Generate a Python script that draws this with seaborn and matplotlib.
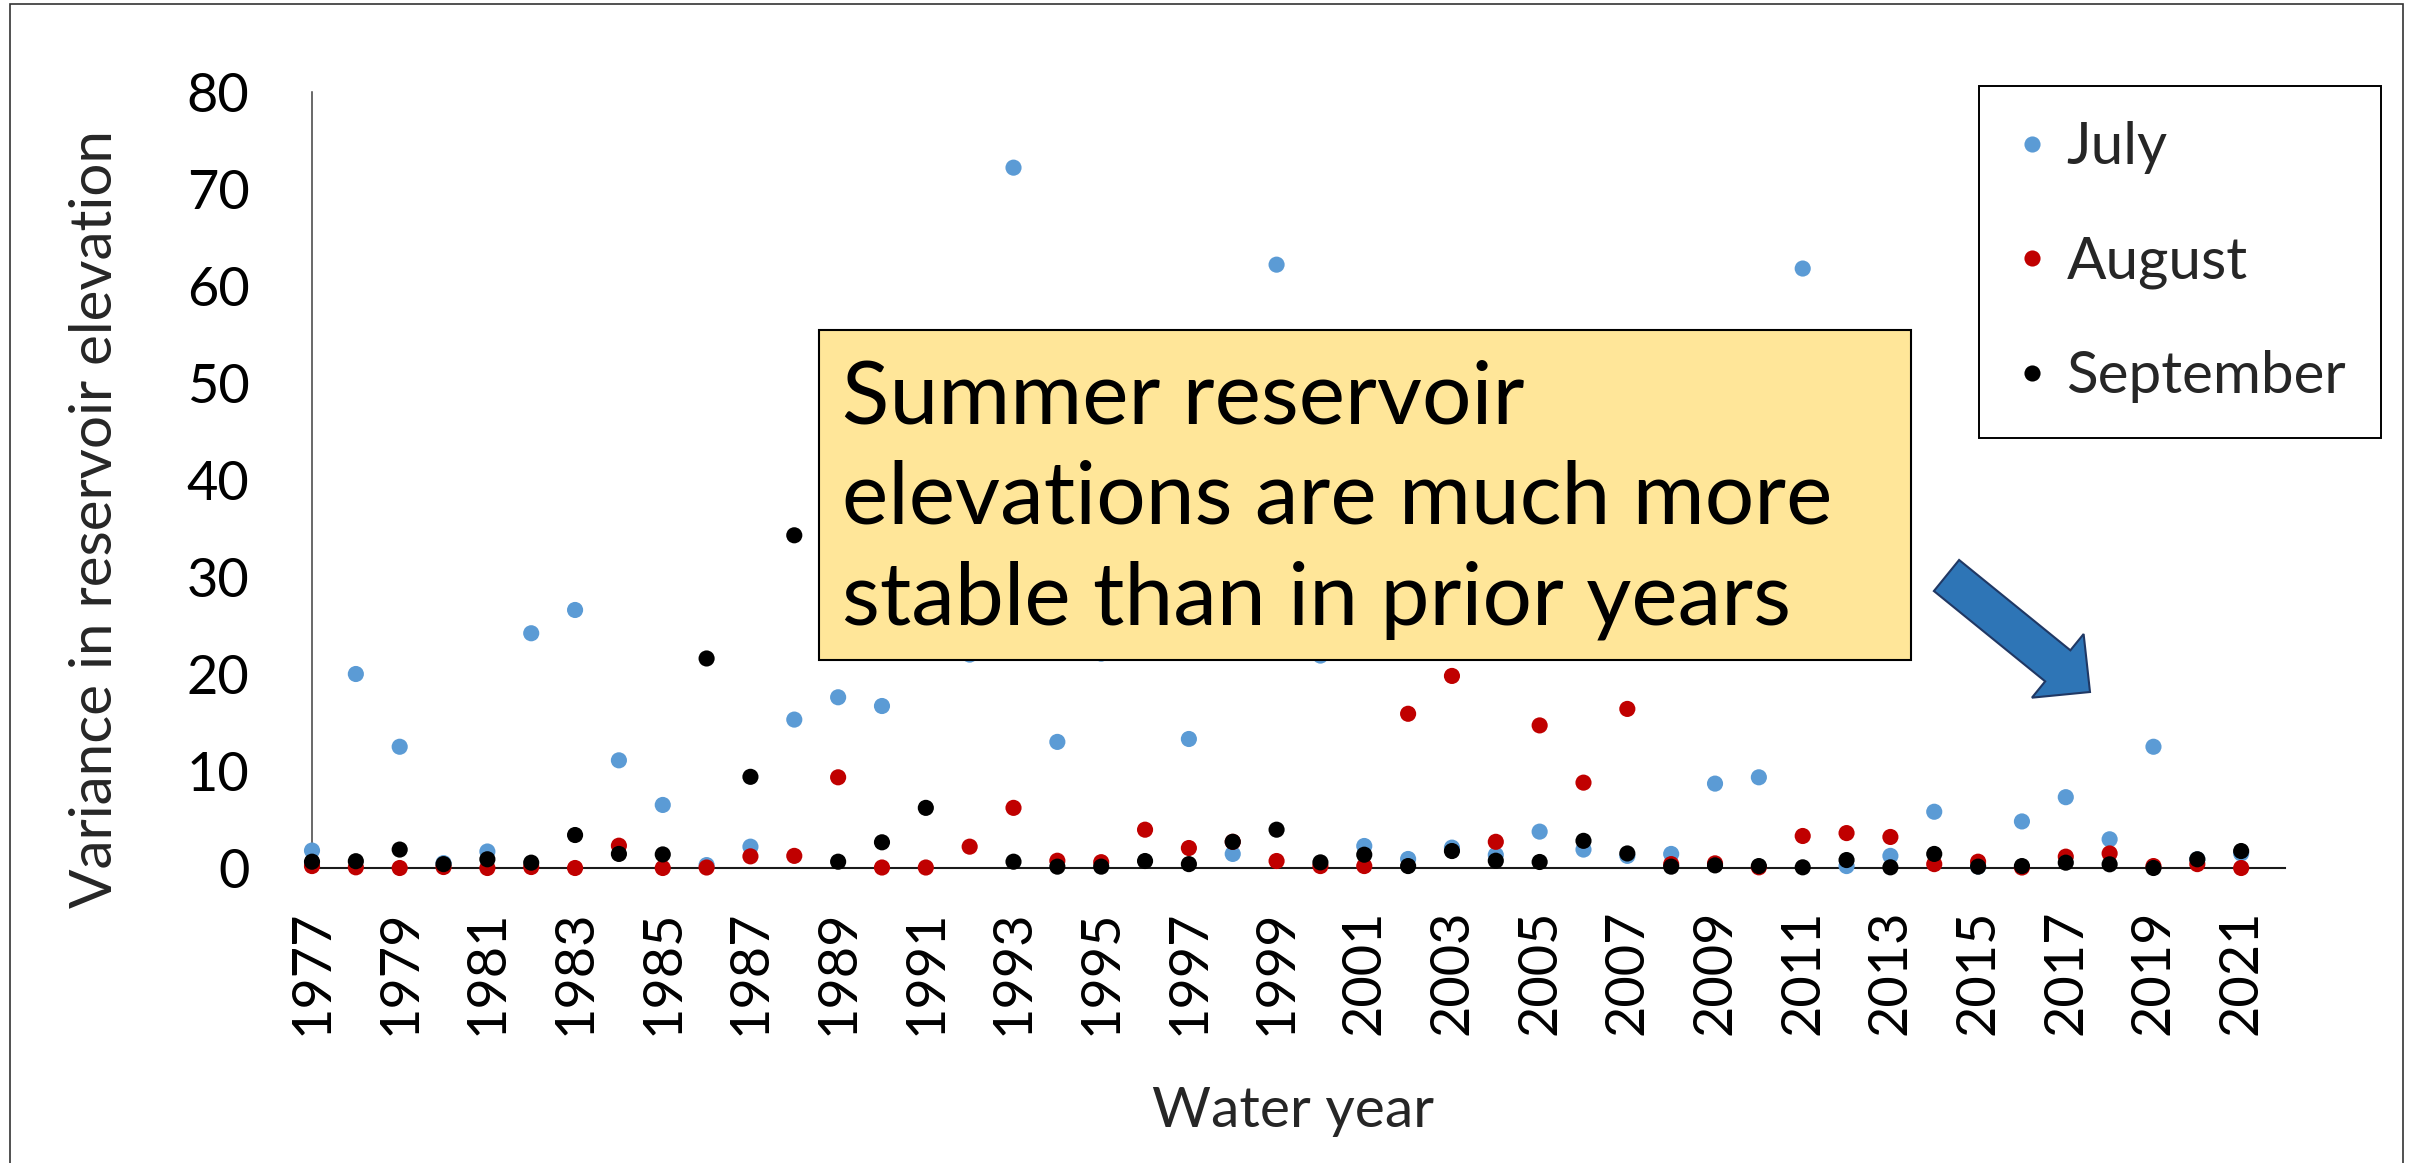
import numpy as np
import pandas as pd
import matplotlib
matplotlib.use("Agg")
import matplotlib.pyplot as plt
import matplotlib.patches as mpatches
import seaborn as sns

# ---- data -------------------------------------------------------------
years = list(range(1977, 2022))

july = [1.8, 20.0, 12.5, 0.5, 1.7, 24.2, 26.6, 11.1, 6.5, 0.3,
        2.2, 15.3, 17.6, 16.7, 38.0, 22.0, 72.2, 13.0, 22.1, 30.0,
        13.3, 1.45, 62.2, 21.9, 2.27, 0.93, 2.1, 1.35, 3.75, 1.9,
        1.25, 1.45, 8.7, 9.35, 61.8, 0.2, 1.25, 5.8, 0.15, 4.8,
        7.3, 2.96, 12.5, 0.9, 1.5]

august = [0.2, 0.07, 0.0, 0.1, 0.0, 0.1, 0.0, 2.3, 0.0, 0.05,
          1.2, 1.25, 9.35, 0.05, 0.05, 2.2, 6.2, 0.75, 0.6, 3.95,
          2.06, 2.7, 0.72, 0.2, 0.2, 15.9, 19.8, 2.7, 14.7, 8.8,
          16.4, 0.4, 0.48, 0.07, 3.3, 3.6, 3.2, 0.4, 0.65, 0.05,
          1.17, 1.5, 0.2, 0.4, 0.0]

september = [0.65, 0.7, 1.9, 0.4, 0.9, 0.55, 3.4, 1.45, 1.4, 21.6,
             9.4, 34.3, 0.65, 2.65, 6.2, 40.0, 0.65, 0.14, 0.14, 0.72,
             0.4, 2.7, 3.95, 0.58, 1.37, 0.2, 1.75, 0.75, 0.62, 2.8,
             1.5, 0.14, 0.27, 0.2, 0.07, 0.82, 0.07, 1.45, 0.14, 0.2,
             0.55, 0.38, 0.0, 0.9, 1.75]

months = ["July", "August", "September"]
month_colors = ["#5B9BD5", "#C00000", "#000000"]
tick_years = years[::2]
y_ticks = [0, 10, 20, 30, 40, 50, 60, 70, 80]

callout_lines = ["Summer reservoir",
                 "elevations are much more",
                 "stable than in prior years"]

df = pd.DataFrame({
    "Water year": years * 3,
    "Variance": july + august + september,
    "Month": [m for m in months for _ in years],
})

# ---- style ------------------------------------------------------------
sns.set_theme(style="white")
plt.rcParams["font.family"] = ["Lato", "DejaVu Sans"]

W, H = 2410, 1163
fig = plt.figure(figsize=(W / 100, H / 100), dpi=100)
fig.patch.set_facecolor("white")

ax_l, ax_r, ax_b, ax_t = 312, 2285, 868, 92
ax = fig.add_axes([ax_l / W, 1 - ax_b / H, (ax_r - ax_l) / W, (ax_b - ax_t) / H])

sns.scatterplot(data=df, x="Water year", y="Variance", hue="Month",
                hue_order=months, palette=month_colors, s=135,
                linewidth=0, clip_on=False, ax=ax, zorder=3)

ax.set_xlim(1977, 2022)
ax.set_ylim(0, 80)
ax.set_xticks(tick_years)
ax.set_xticklabels([str(y) for y in tick_years], rotation=90)
ax.set_yticks(y_ticks)
ax.tick_params(axis="both", length=0, labelsize=39, colors="black")
ax.tick_params(axis="x", pad=30)
ax.tick_params(axis="y", pad=45)

for side in ("top", "right"):
    ax.spines[side].set_visible(False)
ax.spines["left"].set_color("#404040")
ax.spines["left"].set_linewidth(1.1)
ax.spines["bottom"].set_color("#1a1a1a")
ax.spines["bottom"].set_linewidth(1.5)
ax.grid(False)

ax.set_xlabel("Water year", fontsize=41, va="top")
ax.xaxis.set_label_coords(0.497, (ax_b - 1086) / (ax_b - ax_t))
ax.set_ylabel("Variance in reservoir elevation", fontsize=42, va="center")
ax.yaxis.set_label_coords((95 - ax_l) / (ax_r - ax_l), (ax_b - 519) / (ax_b - ax_t))

# legend
handles, labels = ax.get_legend_handles_labels()
ax.legend(handles, labels, loc="upper left",
          bbox_to_anchor=(1979 / W, 1 - 86 / H), bbox_transform=fig.transFigure,
          borderaxespad=0, frameon=True, fancybox=False, framealpha=1,
          edgecolor="black", fontsize=42, labelspacing=1.05,
          borderpad=0.6, handlelength=0.62, handletextpad=0.28)
ax.get_legend().get_frame().set_linewidth(1.4)

# callout box
fig.add_artist(mpatches.Rectangle((819 / W, 1 - 660 / H), (1911 - 819) / W, (660 - 330) / H,
                                  transform=fig.transFigure, facecolor="#FFE699",
                                  edgecolor="black", linewidth=1.5, zorder=5))
for i, line in enumerate(callout_lines):
    fig.text(842 / W, 1 - (423 + 101 * i) / H, line, fontsize=63,
             va="baseline", ha="left", color="black", zorder=6)

# block arrow pointing to the recent years
tail = np.array([1946.5, 575.5])
tip = np.array([2090.0, 692.0])
d = (tip - tail) / np.linalg.norm(tip - tail)
n = np.array([-d[1], d[0]])
base = tip - d * 41.5
pts = [tail + n * 20, base + n * 20, base + n * 41, tip,
       base - n * 41, base - n * 20, tail - n * 20]
pts = [(p[0] / W, 1 - p[1] / H) for p in pts]
fig.add_artist(mpatches.Polygon(pts, closed=True, transform=fig.transFigure,
                                facecolor="#2E75B6", edgecolor="#203864",
                                linewidth=1.5, zorder=5))

# outer frame
fig.add_artist(mpatches.Rectangle((10 / W, -0.05), (2403 - 10) / W, 1 - 4 / H + 0.05,
                                  transform=fig.transFigure, facecolor="none",
                                  edgecolor="#333333", linewidth=1.2, zorder=7))

fig.savefig("out.png", dpi=100)
